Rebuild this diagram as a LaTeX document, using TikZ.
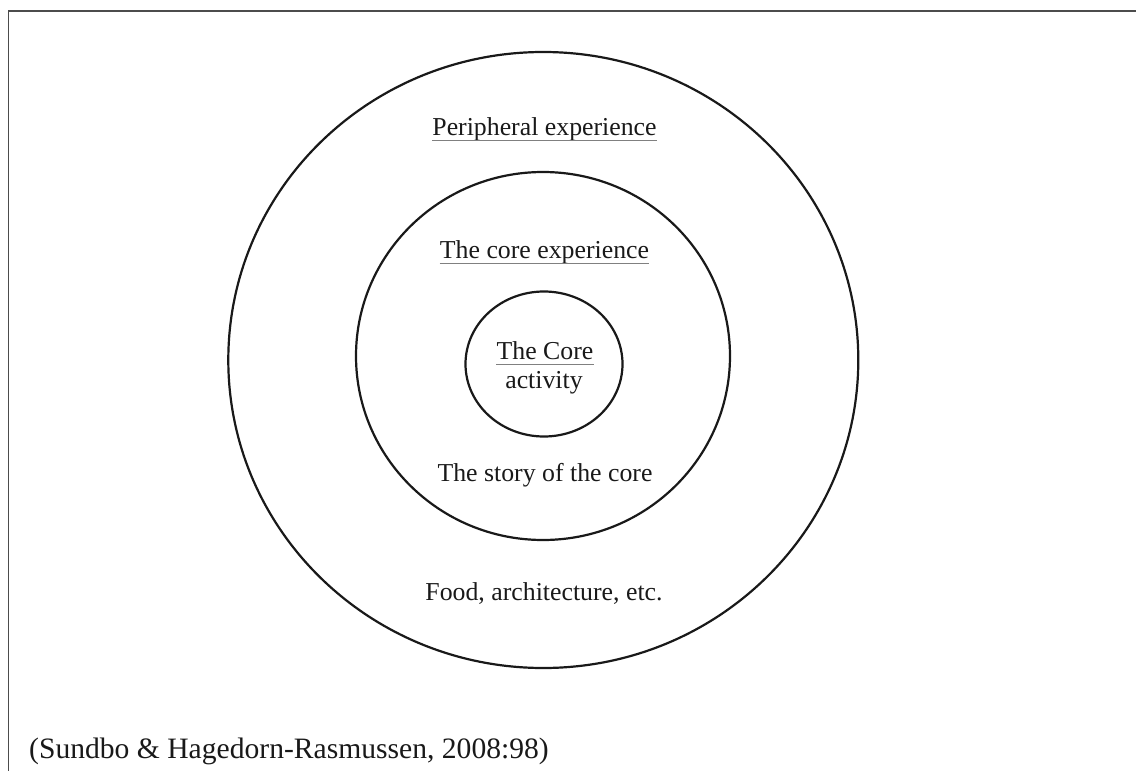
\documentclass[tikz,border=0pt]{standalone}
\usepackage{fontspec}
\setmainfont{Liberation Serif}
\tikzset{
  ring/.style={draw=black!90, line width=2.2pt},
  lbl/.style={anchor=base, inner sep=0pt, font=\fontsize{25.8}{31}\selectfont, text=black!90},
  uline/.style={draw=black!50, line width=1.8pt},
  frame/.style={draw=black!70, line width=1.8pt}
}
\begin{document}
\begin{tikzpicture}[x=1pt,y=-1pt]
\useasboundingbox (0,0) rectangle (1136,771);
% frame lines (top and left only)
\coordinate (fbl) at (8.5,771);
\coordinate (ftl) at (8.5,10.7);
\coordinate (ftr) at (1136,10.7);
\draw[frame] (fbl) -- (ftl) -- (ftr);
% rings
\draw[ring] (543.3,360) ellipse [x radius=315pt, y radius=308pt];
\draw[ring] (543,356) ellipse [x radius=187pt, y radius=184pt];
\draw[ring] (544,364) ellipse [x radius=78.5pt, y radius=72.5pt];
% labels
\node[lbl] (peri) at (544.5,135) {Peripheral experience};
\draw[uline] ([yshift=-5.5pt]peri.base west) -- ([yshift=-5.5pt]peri.base east);
\node[lbl] (coreexp) at (544.5,258) {The core experience};
\draw[uline] ([yshift=-5.5pt]coreexp.base west) -- ([yshift=-5.5pt]coreexp.base east);
\node[lbl] (coreact) at (545,359) {The Core};
\draw[uline] ([yshift=-5.5pt]coreact.base west) -- ([yshift=-5.5pt]coreact.base east);
\node[lbl] (activity) at (544,388.5) {activity};
\node[lbl] (story) at (545,481.5) {The story of the core};
\node[lbl] (food) at (544,600) {Food, architecture, etc.};
\node[anchor=base west, inner sep=0pt, font=\fontsize{29.6}{35}\selectfont, text=black!90] (cite) at (29,758) {(Sundbo \& Hagedorn-Rasmussen, 2008:98)};
\end{tikzpicture}
\end{document}
